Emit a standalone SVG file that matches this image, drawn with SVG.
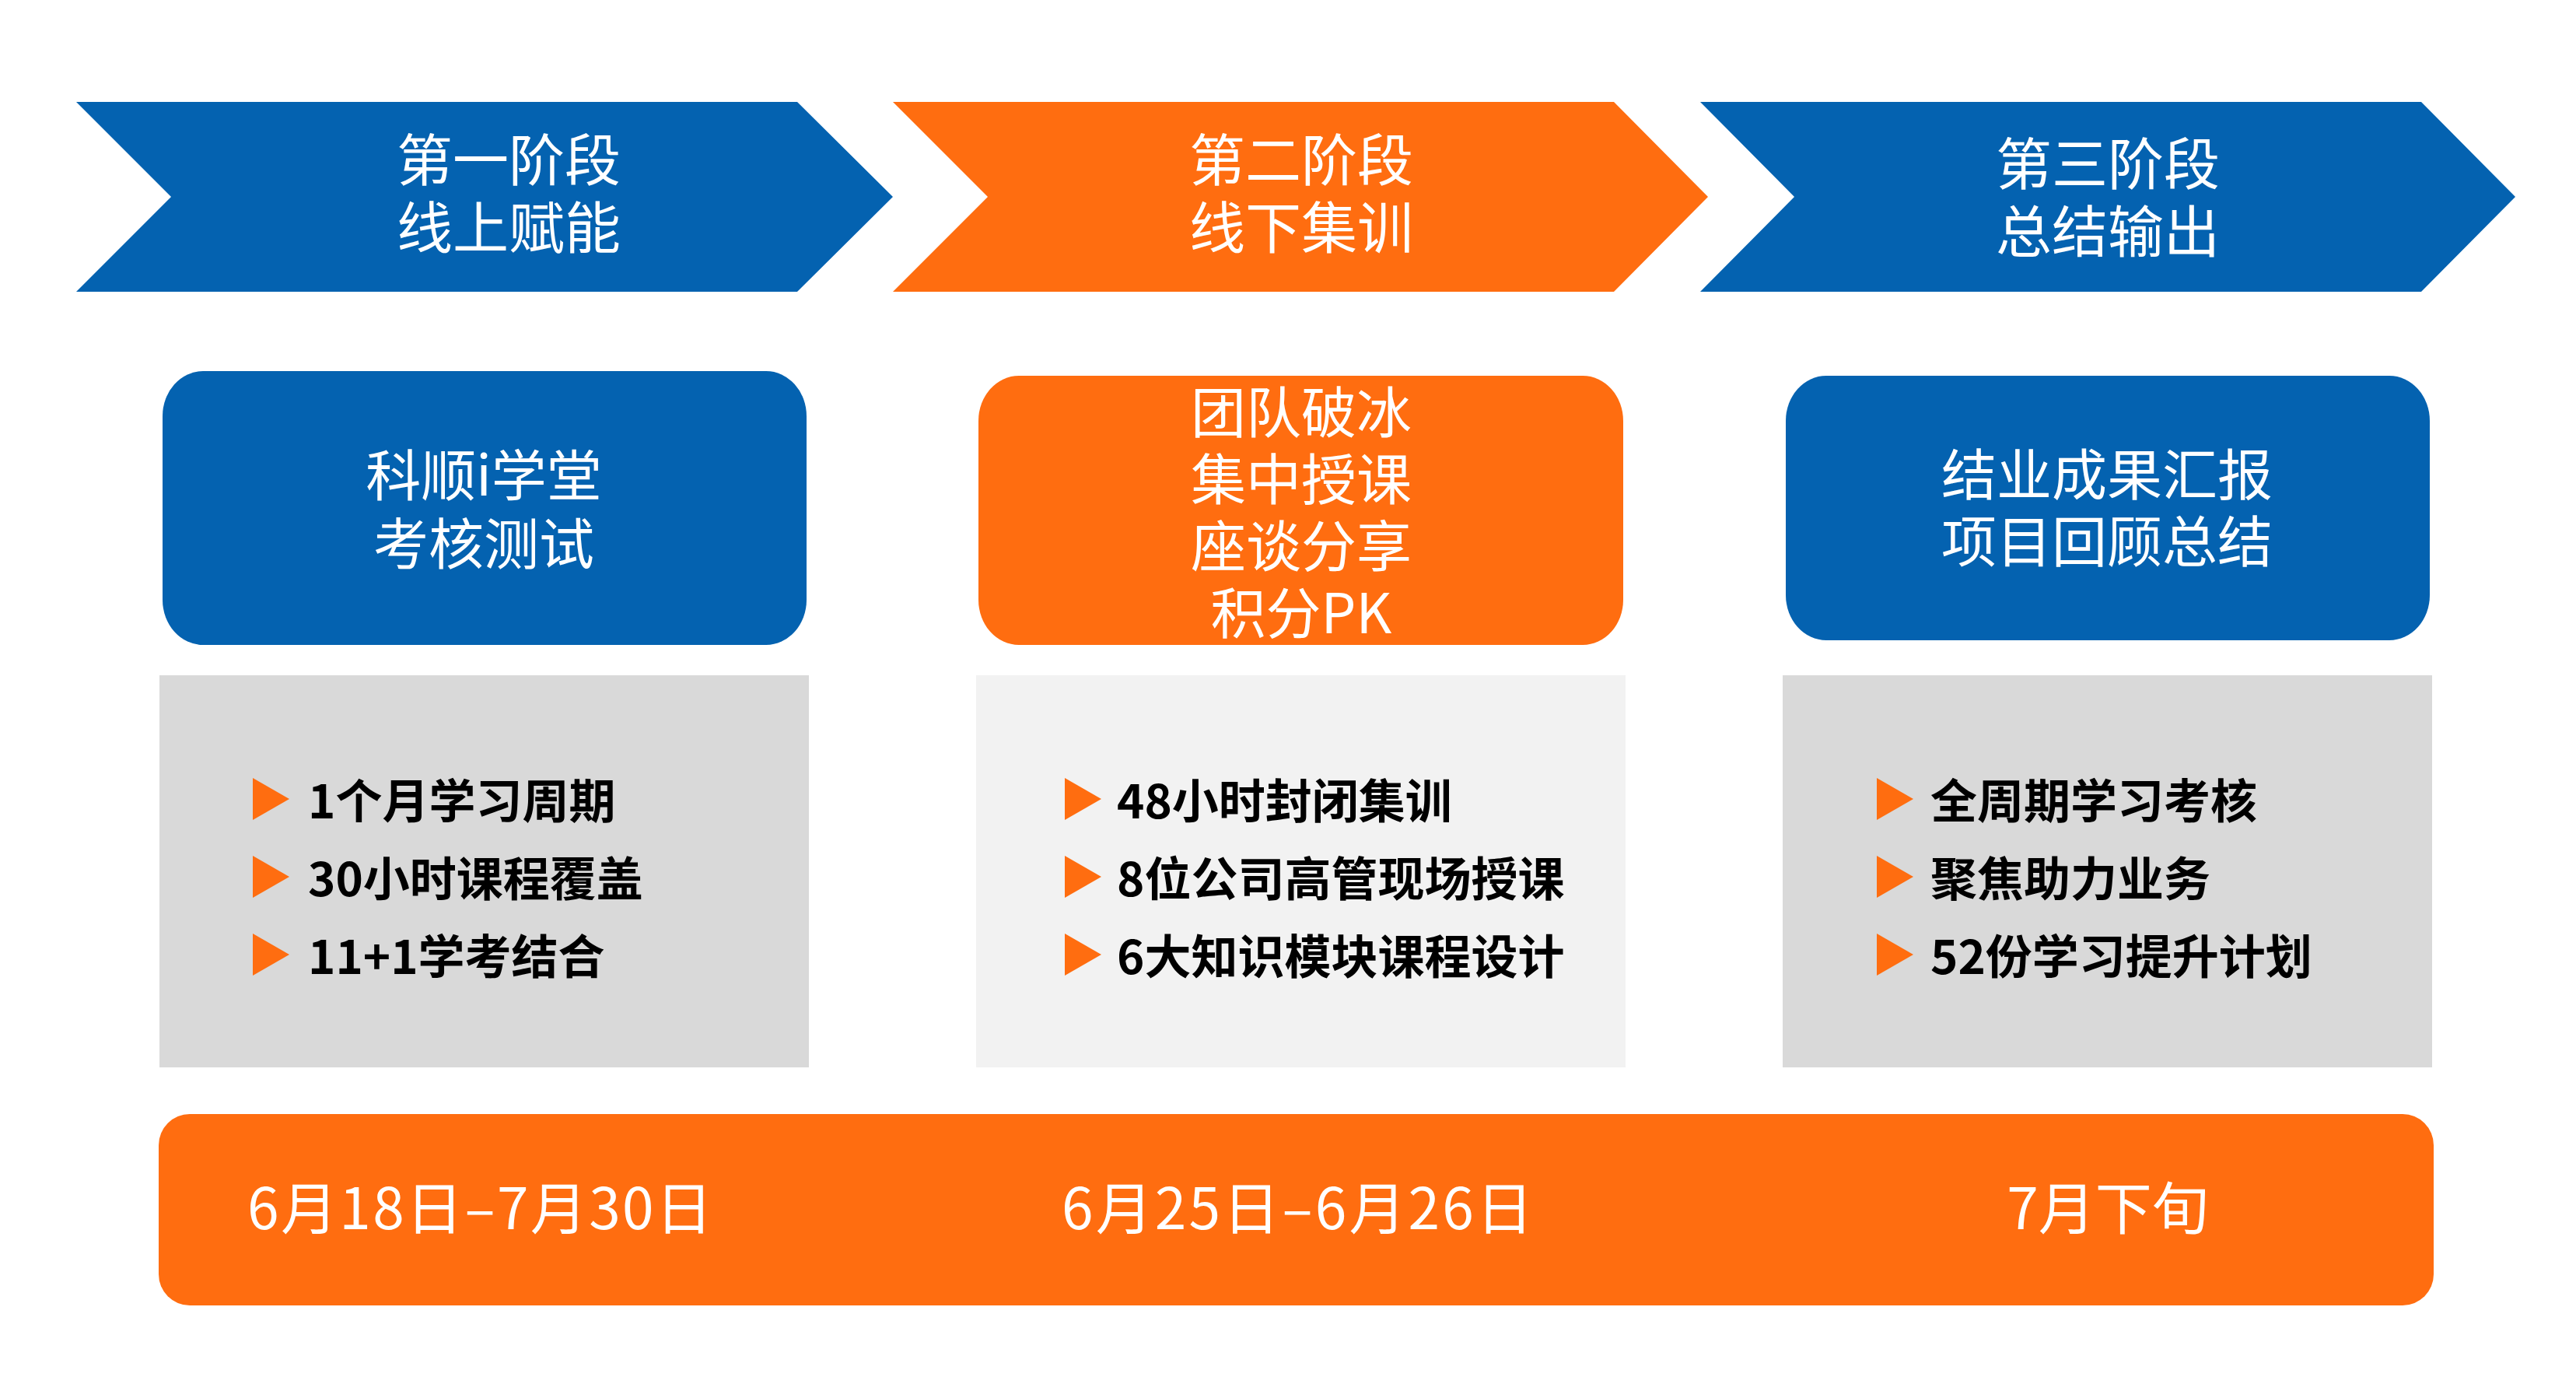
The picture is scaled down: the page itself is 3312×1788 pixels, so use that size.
<svg xmlns="http://www.w3.org/2000/svg" width="3312" height="1788" viewBox="0 0 3312 1788">
<style>
.blue{fill:#0462B0}
.orange{fill:#FF6D10}
.t{font-family:"Noto Sans CJK SC","Liberation Sans",sans-serif;fill:#fff;text-anchor:middle}
.h{font-size:72px}
.b{font-size:71px}
.d{font-size:73px}
.li{font-family:"Noto Sans CJK SC","Liberation Sans",sans-serif;font-weight:700;font-size:60px;fill:#000}
.tri{fill:#FF6D10}
</style>
<rect width="3312" height="1788" fill="#fff"/>
<g id="stage1">
<polygon class="blue" points="98,131 1025,131 1148,253 1025,375 98,375 220,253"/>
<text class="t h" x="654" y="232">第一阶段</text>
<text class="t h" x="654" y="319">线上赋能</text>
</g>
<g id="stage2">
<polygon class="orange" points="1148,131 2075,131 2196,253 2075,375 1148,375 1270,253"/>
<text class="t h" x="1673" y="232">第二阶段</text>
<text class="t h" x="1673" y="319">线下集训</text>
</g>
<g id="stage3">
<polygon class="blue" points="2186,131 3113,131 3234,253 3113,375 2186,375 2307,253"/>
<text class="t h" x="2710" y="237">第三阶段</text>
<text class="t h" x="2710" y="324">总结输出</text>
</g>
<g id="box1">
<rect class="blue" x="209" y="477" width="828" height="352" rx="52" ry="58"/>
<text class="t b" x="622" y="637">科顺i学堂</text>
<text class="t b" x="622" y="725">考核测试</text>
</g>
<g id="box2">
<rect class="orange" x="1258" y="483" width="829" height="346" rx="52" ry="58"/>
<text class="t b" x="1673" y="556">团队破冰</text>
<text class="t b" x="1673" y="642">集中授课</text>
<text class="t b" x="1673" y="728">座谈分享</text>
<text class="t b" x="1673" y="814">积分PK</text>
</g>
<g id="box3">
<rect class="blue" x="2296" y="483" width="828" height="340" rx="52" ry="58"/>
<text class="t b" x="2709" y="636">结业成果汇报</text>
<text class="t b" x="2709" y="722">项目回顾总结</text>
</g>
<g id="list1">
<rect x="205" y="868" width="835" height="504" fill="#D9D9D9"/>
<polygon class="tri" points="325,1000 372,1027 325,1054"/>
<polygon class="tri" points="325,1100 372,1127 325,1154"/>
<polygon class="tri" points="325,1200 372,1227 325,1254"/>
<text class="li" x="396" y="1052">1个月学习周期</text>
<text class="li" x="396" y="1152">30小时课程覆盖</text>
<text class="li" x="396" y="1252">11+1学考结合</text>
</g>
<g id="list2">
<rect x="1255" y="868" width="835" height="504" fill="#F2F2F2"/>
<polygon class="tri" points="1369,1000 1416,1027 1369,1054"/>
<polygon class="tri" points="1369,1100 1416,1127 1369,1154"/>
<polygon class="tri" points="1369,1200 1416,1227 1369,1254"/>
<text class="li" x="1436" y="1052">48小时封闭集训</text>
<text class="li" x="1436" y="1152">8位公司高管现场授课</text>
<text class="li" x="1436" y="1252">6大知识模块课程设计</text>
</g>
<g id="list3">
<rect x="2292" y="868" width="835" height="504" fill="#D9D9D9"/>
<polygon class="tri" points="2413,1000 2460,1027 2413,1054"/>
<polygon class="tri" points="2413,1100 2460,1127 2413,1154"/>
<polygon class="tri" points="2413,1200 2460,1227 2413,1254"/>
<text class="li" x="2482" y="1052">全周期学习考核</text>
<text class="li" x="2482" y="1152">聚焦助力业务</text>
<text class="li" x="2482" y="1252">52份学习提升计划</text>
</g>
<g id="timeline">
<rect class="orange" x="204" y="1432" width="2925" height="246" rx="40" ry="40"/>
<text class="t d" x="617" y="1580" textLength="598" lengthAdjust="spacing">6月18日–7月30日</text>
<text class="t d" x="1668" y="1580" textLength="606" lengthAdjust="spacing">6月25日–6月26日</text>
<text class="t d" x="2710" y="1580">7月下旬</text>
</g>
<g id="connectors"></g>
</svg>
